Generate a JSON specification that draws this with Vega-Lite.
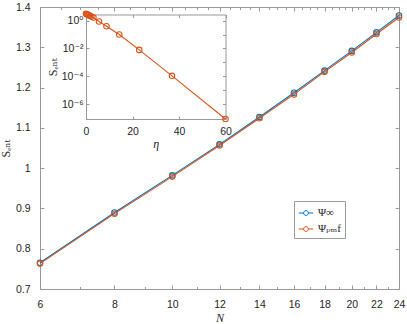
{
  "$schema": "https://vega.github.io/schema/vega-lite/v6.json",
  "width": 359,
  "height": 282,
  "autosize": "none",
  "padding": {"left": 40, "top": 7, "right": 8, "bottom": 35},
  "background": "white",
  "config": {
    "view": {"stroke": null},
    "axis": {
      "labelFont": "Liberation Sans",
      "labelFontSize": 10.5,
      "labelColor": "#262626",
      "domainColor": "#999999",
      "tickColor": "#999999",
      "grid": false,
      "labelFlush": false,
      "labelOverlap": false,
      "titleFont": "Liberation Serif, DejaVu Serif",
      "titleFontWeight": "normal",
      "titleColor": "#262626",
      "titleFontSize": 12
    },
    "legend": {
      "orient": "none",
      "legendX": 254,
      "legendY": 194,
      "fillColor": "white",
      "strokeColor": "#999999",
      "padding": 4,
      "labelFont": "Liberation Serif, DejaVu Serif",
      "labelFontSize": 11,
      "labelColor": "#262626",
      "rowPadding": 3,
      "symbolType": "M-1,0L-0.33,0M0.33,0L1,0M0.33,0A0.33,0.33,0,1,1,-0.33,0A0.33,0.33,0,1,1,0.33,0",
      "symbolSize": 210,
      "symbolStrokeWidth": 1,
      "symbolFillColor": "transparent"
    }
  },
  "datasets": {
    "main": [
      {"N": 6, "S": 0.765, "series": "Ψ∞"},
      {"N": 8, "S": 0.890, "series": "Ψ∞"},
      {"N": 10, "S": 0.982, "series": "Ψ∞"},
      {"N": 12, "S": 1.059, "series": "Ψ∞"},
      {"N": 14, "S": 1.127, "series": "Ψ∞"},
      {"N": 16, "S": 1.187, "series": "Ψ∞"},
      {"N": 18, "S": 1.242, "series": "Ψ∞"},
      {"N": 20, "S": 1.291, "series": "Ψ∞"},
      {"N": 22, "S": 1.337, "series": "Ψ∞"},
      {"N": 24, "S": 1.379, "series": "Ψ∞"},
      {"N": 6, "S": 0.763, "series": "Ψₚₘf"},
      {"N": 8, "S": 0.887, "series": "Ψₚₘf"},
      {"N": 10, "S": 0.979, "series": "Ψₚₘf"},
      {"N": 12, "S": 1.056, "series": "Ψₚₘf"},
      {"N": 14, "S": 1.124, "series": "Ψₚₘf"},
      {"N": 16, "S": 1.183, "series": "Ψₚₘf"},
      {"N": 18, "S": 1.239, "series": "Ψₚₘf"},
      {"N": 20, "S": 1.287, "series": "Ψₚₘf"},
      {"N": 22, "S": 1.333, "series": "Ψₚₘf"},
      {"N": 24, "S": 1.374, "series": "Ψₚₘf"}
    ],
    "inset": [
      {"eta": 0, "S": 3.0},
      {"eta": 0.4, "S": 2.8},
      {"eta": 0.8, "S": 2.6},
      {"eta": 1.2, "S": 2.4},
      {"eta": 1.7, "S": 2.2},
      {"eta": 2.3, "S": 1.95},
      {"eta": 3.2, "S": 1.63},
      {"eta": 5.6, "S": 0.85},
      {"eta": 8.8, "S": 0.39},
      {"eta": 14.3, "S": 0.1},
      {"eta": 22.9, "S": 0.0079},
      {"eta": 37.0, "S": 0.00011},
      {"eta": 60, "S": 9e-8}
    ]
  },
  "layer": [
    {
      "layer": [
        {
          "data": {"name": "main"},
          "mark": {"type": "line", "strokeWidth": 1.1, "point": {"filled": false, "size": 30, "strokeWidth": 1.1}},
          "encoding": {
            "x": {
              "field": "N", "type": "quantitative",
              "scale": {"type": "log", "domain": [6, 24], "nice": false},
              "axis": {
                "orient": "bottom",
                "title": "N",
                "titleFontStyle": "italic",
                "titlePadding": 1,
                "values": [6,6.5,7,7.5,8,8.5,9,9.5,10,10.5,11,11.5,12,12.5,13,13.5,14,14.5,15,15.5,16,16.5,17,17.5,18,18.5,19,19.5,20,20.5,21,21.5,22,22.5,23,23.5,24],
                "labelExpr": "datum.value % 2 === 0 ? datum.label : ''",
                "format": "d",
                "tickSize": {"condition": {"test": "datum.value % 2 === 0", "value": -4}, "value": -2.5},
                "labelPadding": 14
              }
            },
            "y": {
              "field": "S", "type": "quantitative",
              "scale": {"domain": [0.7, 1.4], "nice": false, "zero": false},
              "axis": {
                "orient": "left",
                "title": "Sₑₙₜ",
                "titlePadding": 3,
                "values": [0.7, 0.8, 0.9, 1, 1.1, 1.2, 1.3, 1.4],
                "format": "~g",
                "tickSize": -4,
                "labelPadding": 14
              }
            },
            "color": {
              "field": "series", "type": "nominal",
              "scale": {"domain": ["Ψ∞", "Ψₚₘf"], "range": ["#0072BD", "#D95319"]},
              "legend": {"title": null}
            }
          }
        },
        {
          "data": {"name": "main"},
          "mark": {"type": "point", "opacity": 0},
          "encoding": {
            "x": {
              "field": "N", "type": "quantitative",
              "axis": {
                "orient": "top",
                "title": null,
                "labels": false,
                "values": [6,6.5,7,7.5,8,8.5,9,9.5,10,10.5,11,11.5,12,12.5,13,13.5,14,14.5,15,15.5,16,16.5,17,17.5,18,18.5,19,19.5,20,20.5,21,21.5,22,22.5,23,23.5,24],
                "tickSize": {"condition": {"test": "datum.value % 2 === 0", "value": -4}, "value": -2.5}
              }
            },
            "y": {
              "field": "S", "type": "quantitative",
              "axis": {
                "orient": "right",
                "title": null,
                "labels": false,
                "values": [0.7, 0.8, 0.9, 1, 1.1, 1.2, 1.3, 1.4],
                "tickSize": -4
              }
            }
          }
        }
      ],
      "resolve": {"axis": {"x": "independent", "y": "independent"}}
    },
    {
      "layer": [
        {
          "data": {"name": "inset"},
          "mark": {"type": "line", "color": "#D95319", "strokeWidth": 1.1, "clip": false, "point": {"filled": false, "size": 30, "strokeWidth": 1.1, "color": "#D95319"}},
          "encoding": {
            "x": {
              "field": "eta", "type": "quantitative",
              "scale": {"domain": [0, 60], "nice": false, "range": [46, 185.5]},
              "axis": {
                "orient": "bottom",
                "offset": -170,
                "title": "η",
                "titleFontStyle": "italic",
                "titlePadding": 2,
                "values": [0, 20, 40, 60],
                "tickSize": -3,
                "labelPadding": 10
              }
            },
            "y": {
              "field": "S", "type": "quantitative",
              "scale": {"type": "log", "domain": [9e-8, 2.7], "nice": false, "range": [112, 7.5]},
              "axis": {
                "orient": "left",
                "offset": -46,
                "title": "Sₑₙₜ",
                "titlePadding": 2,
                "labelFont": "Liberation Sans, DejaVu Sans",
                "values": [1, 0.01, 0.0001, 0.000001],
                "labelExpr": "datum.value >= 0.5 ? '10⁰' : datum.value >= 0.005 ? '10⁻²' : datum.value >= 0.00005 ? '10⁻⁴' : '10⁻⁶'",
                "tickSize": -3,
                "labelPadding": 6
              }
            }
          }
        },
        {
          "data": {"name": "inset"},
          "mark": {"type": "point", "opacity": 0},
          "encoding": {
            "x": {
              "field": "eta", "type": "quantitative",
              "axis": {"orient": "top", "offset": -7.5, "title": null, "labels": false, "values": [0, 20, 40, 60], "tickSize": -3}
            },
            "y": {
              "field": "S", "type": "quantitative",
              "axis": {"orient": "right", "offset": -173.5, "title": null, "labels": false, "values": [1, 0.1, 0.01, 0.001, 0.0001, 0.00001, 0.000001, 0.0000001], "tickSize": -3}
            }
          }
        }
      ],
      "resolve": {"axis": {"x": "independent", "y": "independent"}}
    }
  ],
  "resolve": {"scale": {"x": "independent", "y": "independent"}}
}
